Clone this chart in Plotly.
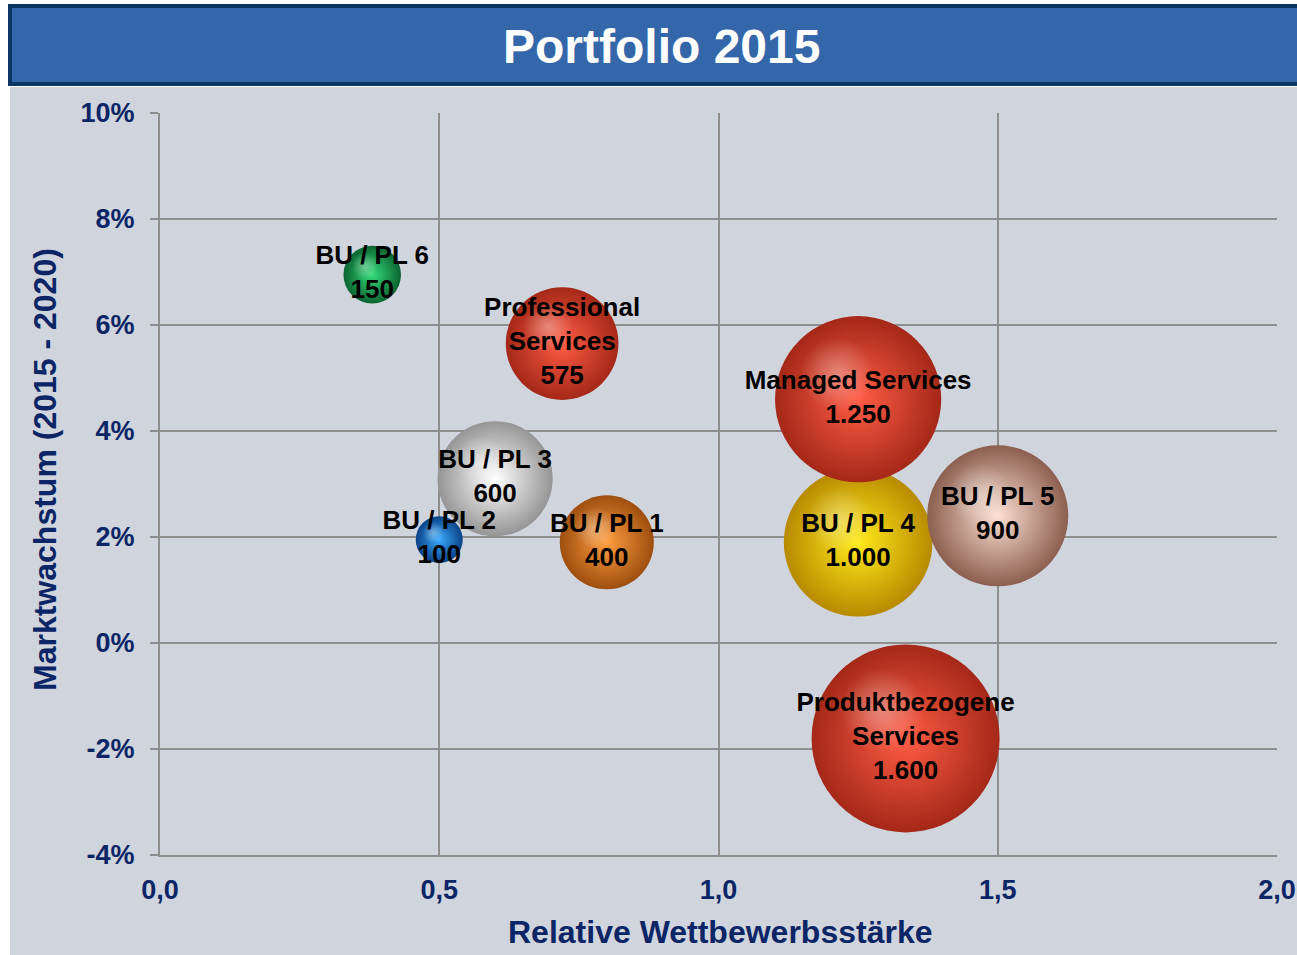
import plotly.graph_objects as go
import math

# ---------------- data ----------------
units = ["BU / PL 1", "BU / PL 2", "BU / PL 3", "BU / PL 4", "BU / PL 5",
         "BU / PL 6", "Professional<br>Services", "Managed Services",
         "Produktbezogene<br>Services"]
strength = [0.80, 0.50, 0.60, 1.25, 1.50, 0.38, 0.72, 1.25, 1.335]     # Relative Wettbewerbsstärke
growth = [1.9, 1.95, 3.1, 1.9, 2.4, 6.95, 5.65, 4.6, -1.8]              # Marktwachstum in %
revenue = [400, 100, 600, 1000, 900, 150, 575, 1250, 1600]              # bubble value

x_ticks = [0.0, 0.5, 1.0, 1.5, 2.0]
y_ticks = [-4, -2, 0, 2, 4, 6, 8, 10]
y_tick_labels = ["-4%", "-2%", "0%", "2%", "4%", "6%", "8%", "10%"]

# ---------------- styles ----------------
center_colors = ["#FF9E40", "#3AAAFF", "#FFFFFF", "#FFEA1A", "#FCE0D2",
                 "#35DC7A", "#FF5C45", "#FF5C45", "#FF5C45"]
edge_colors = ["#9E4E0E", "#0A4286", "#959595", "#B88A00", "#8C5F50",
               "#0A6430", "#A52818", "#A52818", "#A52818"]

NAVY = "#0B2566"
GRID = "#8E8E8E"
BG = "#D0D4DC"
FONT = "Liberation Sans, Arial, sans-serif"

W, H = 1297, 955
L, R, T, B = 160, 20, 113, 100
plot_w = W - L - R
plot_h = H - T - B
px_per_x = plot_w / 2.0
px_per_y = plot_h / 14.0

max_radius = 94
sizeref = 2 * max(revenue) / (2 * max_radius) ** 2

labels = [f"{n}<br>{v:,}".replace(",", ".") for n, v in zip(units, revenue)]

fig = go.Figure()

# bubbles (radial gradient: gradient.color is the centre colour)
fig.add_trace(go.Scatter(
    x=strength, y=growth, mode="markers",
    marker=dict(size=revenue, sizemode="area", sizeref=sizeref, opacity=1,
                color=edge_colors, line=dict(width=0),
                gradient=dict(type="radial", color=center_colors)),
    hoverinfo="skip", showlegend=False))

# specular highlights (derived from bubble radius)
radii = [math.sqrt(v / (2 * sizeref)) for v in revenue]
hx = [xv - 0.25 * r / px_per_x for xv, r in zip(strength, radii)]
hy = [yv + 0.30 * r / px_per_y for yv, r in zip(growth, radii)]
fig.add_trace(go.Scatter(
    x=hx, y=hy, mode="markers",
    marker=dict(size=revenue, sizemode="area", sizeref=sizeref / 0.2, opacity=1,
                color="rgba(255,255,255,0)", line=dict(width=0),
                gradient=dict(type="radial", color="rgba(255,255,255,0.35)")),
    hoverinfo="skip", showlegend=False))

# labels
fig.add_trace(go.Scatter(
    x=strength, y=growth, mode="text", text=labels,
    textposition="middle center",
    textfont=dict(family=FONT, size=26, color="#000000", weight="bold"),
    hoverinfo="skip", showlegend=False))

shapes = [
    # grey chart background
    dict(type="rect", xref="paper", yref="paper",
         x0=(10 - L) / plot_w, x1=(W + 5 - L) / plot_w,
         y0=(H - B - (H + 5)) / plot_h, y1=(H - B - 87) / plot_h,
         fillcolor=BG, line=dict(width=0), layer="below"),
    # title bar
    dict(type="rect", xref="paper", yref="paper",
         x0=(10 - L) / plot_w, x1=(W + 20 - L) / plot_w,
         y0=(H - B - 84) / plot_h, y1=(H - B - 6) / plot_h,
         fillcolor="#3466AA", line=dict(color="#0D3563", width=4), layer="above"),
]

annotations = [
    dict(text="<b>Portfolio 2015</b>", xref="paper", yref="paper",
         x=(661 - L) / plot_w, y=(H - B - 46) / plot_h,
         showarrow=False, xanchor="center", yanchor="middle",
         font=dict(family=FONT, size=48, color="white")),
    dict(text="<b>Relative Wettbewerbsstärke</b>", xref="paper", yref="paper",
         x=(720 - L) / plot_w, y=(H - B - 932) / plot_h,
         showarrow=False, xanchor="center", yanchor="middle",
         font=dict(family=FONT, size=32, color=NAVY)),
    dict(text="<b>Marktwachstum (2015 - 2020)</b>", xref="paper", yref="paper",
         x=(45 - L) / plot_w, y=(H - B - 470) / plot_h, textangle=-90,
         showarrow=False, xanchor="center", yanchor="middle",
         font=dict(family=FONT, size=32, color=NAVY)),
]

fig.update_layout(
    width=W, height=H, autosize=False,
    margin=dict(l=L, r=R, t=T, b=B, pad=0),
    paper_bgcolor="white", plot_bgcolor=BG,
    separators=",.",
    shapes=shapes, annotations=annotations,
    xaxis=dict(range=[0, 2], tickvals=x_ticks, tickformat=".1f",
               showgrid=True, gridcolor=GRID, gridwidth=2, automargin=False,
               zeroline=False, showline=True, linecolor=GRID, linewidth=2,
               ticks="", ticklabelstandoff=10,
               tickfont=dict(family=FONT, size=27, color=NAVY, weight="bold"),
               fixedrange=True),
    yaxis=dict(range=[-4, 10], tickvals=y_ticks, ticktext=y_tick_labels,
               showgrid=True, gridcolor=GRID, gridwidth=2, automargin=False,
               zeroline=False, showline=True, linecolor=GRID, linewidth=2,
               ticks="outside", ticklen=8, tickwidth=2, tickcolor=GRID,
               ticklabelstandoff=10,
               tickfont=dict(family=FONT, size=27, color=NAVY, weight="bold"),
               fixedrange=True),
)

fig.write_html("out.html", config={"displayModeBar": False},
               post_script="document.body.style.margin='0';document.body.style.overflow='hidden';")
